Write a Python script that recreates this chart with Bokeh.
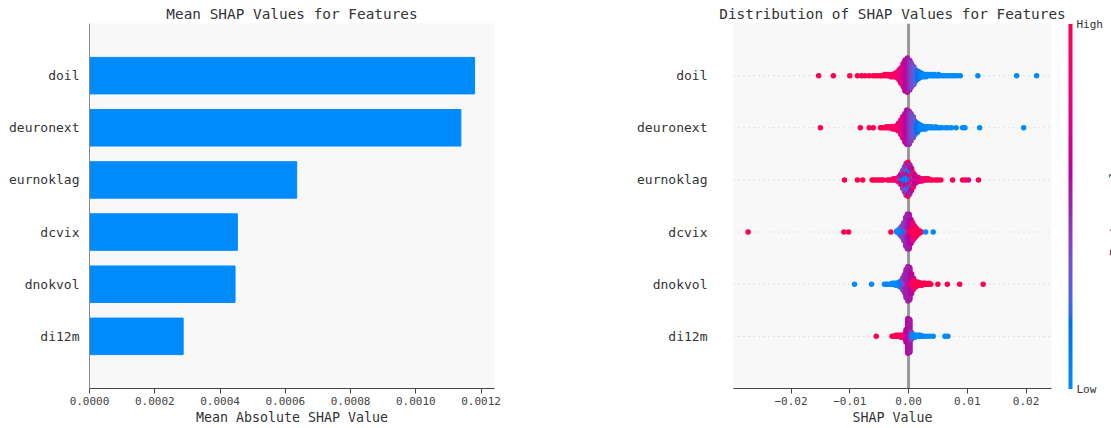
import math

from bokeh.core.properties import value
from bokeh.embed import file_html
from bokeh.layouts import row
from bokeh.models import (ColorBar, ColumnDataSource, CustomJSTickFormatter, FixedTicker,
                          LinearColorMapper, PrintfTickFormatter, Range1d, Span)
from bokeh.plotting import figure
from bokeh.resources import INLINE
from bokeh.transform import transform

FONT = "DejaVu Sans Mono"

# ---------------------------------------------------------------- data
features = ["doil", "deuronext", "eurnoklag", "dcvix", "dnokvol", "di12m"]
mean_abs_shap = [0.001180, 0.001138, 0.000635, 0.000453, 0.000446, 0.000287]

# beeswarm records: (shap value, number of samples, scaled feature value 0=low 1=high)
doil_points = [
    (-0.0153, 1, 1.0), (-0.0128, 1, 1.0), (-0.0100, 1, 1.0), (-0.0087, 1, 1.0),
    (-0.0080, 1, 1.0), (-0.0074, 1, 1.0), (-0.0067, 1, 1.0),
    (-0.0060, 1, 1.0), (-0.0056, 1, 1.0), (-0.0052, 1, 1.0), (-0.0048, 1, 1.0),
    (-0.0045, 1, 0.97), (-0.0041, 2, 0.97), (-0.0037, 2, 0.96), (-0.0034, 2, 0.95),
    (-0.0030, 3, 0.94), (-0.0027, 3, 0.93), (-0.0023, 4, 0.92), (-0.0020, 6, 0.9),
    (-0.0016, 10, 0.86), (-0.0013, 15, 0.8), (-0.0009, 22, 0.74), (-0.0006, 29, 0.66),
    (-0.0002, 32, 0.57), (0.0002, 28, 0.48), (0.0005, 22, 0.4), (0.0009, 17, 0.32),
    (0.0012, 11, 0.24), (0.0016, 8, 0.17), (0.0019, 6, 0.1), (0.0023, 4, 0.06),
    (0.0026, 3, 0.03), (0.0030, 3, 0.0), (0.0033, 2, 0.0), (0.0037, 2, 0.0),
    (0.0041, 2, 0.0), (0.0044, 2, 0.0), (0.0048, 1, 0.0), (0.0051, 2, 0.0),
    (0.0055, 1, 0.0), (0.0059, 1, 0.0), (0.0063, 1, 0.0), (0.0067, 1, 0.0),
    (0.0071, 1, 0.0), (0.0075, 1, 0.0), (0.0079, 1, 0.0), (0.0083, 1, 0.0),
    (0.0088, 1, 0.0), (0.0118, 1, 0.0), (0.0184, 1, 0.0), (0.0218, 1, 0.0),
]

deuronext_points = [
    (-0.0150, 1, 1.0), (-0.0082, 1, 1.0), (-0.0067, 1, 1.0), (-0.0060, 1, 1.0),
    (-0.0048, 1, 1.0), (-0.0045, 1, 1.0), (-0.0041, 1, 1.0), (-0.0038, 2, 0.98),
    (-0.0034, 2, 0.97), (-0.0031, 2, 0.96), (-0.0027, 3, 0.95), (-0.0024, 3, 0.93),
    (-0.0020, 5, 0.9), (-0.0017, 8, 0.86), (-0.0013, 14, 0.8), (-0.0010, 20, 0.74),
    (-0.0006, 27, 0.66), (-0.0003, 32, 0.58), (0.0001, 31, 0.5), (0.0004, 26, 0.42),
    (0.0008, 20, 0.33), (0.0011, 13, 0.25), (0.0015, 9, 0.17), (0.0018, 6, 0.1),
    (0.0022, 4, 0.05), (0.0025, 3, 0.03), (0.0029, 3, 0.02), (0.0032, 2, 0.0),
    (0.0036, 2, 0.0), (0.0039, 2, 0.0), (0.0043, 1, 0.0), (0.0046, 2, 0.0),
    (0.0050, 1, 0.0), (0.0053, 1, 0.0), (0.0057, 1, 0.0), (0.0063, 1, 0.0),
    (0.0067, 1, 0.0), (0.0073, 1, 0.0), (0.0081, 1, 0.0), (0.0092, 1, 0.0),
    (0.0096, 1, 0.0), (0.0121, 1, 0.0), (0.0196, 1, 0.0),
]

eurnoklag_points = [
    (-0.0109, 1, 1.0), (-0.0087, 1, 1.0), (-0.0078, 1, 1.0), (-0.0062, 1, 1.0),
    (-0.0058, 1, 1.0), (-0.0054, 1, 1.0), (-0.0050, 1, 1.0), (-0.0046, 1, 1.0),
    (-0.0043, 1, 0.95), (-0.0036, 1, 1.0), (-0.0033, 1, 0.9), (-0.0029, 1, 1.0),
    (-0.0026, 2, 0.95), (-0.0022, 2, 0.85), (-0.0019, 3, 0.9),
    (-0.0016, 2, 1.0), (-0.0016, 2, 0.3), (-0.0016, 2, 0.85),
    (-0.0013, 4, 0.25), (-0.0013, 3, 0.9), (-0.0013, 3, 0.55),
    (-0.0010, 6, 0.15), (-0.0010, 4, 0.6), (-0.0010, 3, 0.95), (-0.0010, 3, 0.4),
    (-0.0007, 6, 0.1), (-0.0007, 6, 0.5), (-0.0007, 4, 0.9), (-0.0007, 6, 0.35),
    (-0.0004, 8, 0.1), (-0.0004, 6, 0.65), (-0.0004, 8, 0.3), (-0.0004, 2, 0.95),
    (-0.0004, 4, 0.45),
    (-0.0001, 8, 0.0), (-0.0001, 8, 0.55), (-0.0001, 8, 0.25), (-0.0001, 4, 0.75),
    (-0.0001, 2, 1.0),
    (0.0002, 6, 0.2), (0.0002, 6, 0.75), (0.0002, 8, 0.1), (0.0002, 6, 0.5),
    (0.0005, 6, 0.45), (0.0005, 6, 0.9), (0.0005, 4, 0.15), (0.0005, 4, 0.65),
    (0.0008, 5, 0.8), (0.0008, 4, 0.4), (0.0008, 4, 1.0),
    (0.0011, 4, 0.9), (0.0011, 4, 0.6),
    (0.0014, 3, 1.0), (0.0014, 2, 0.65),
    (0.0017, 2, 0.9), (0.0017, 2, 0.7),
    (0.0020, 1, 1.0), (0.0020, 2, 0.65),
    (0.0023, 3, 0.85), (0.0027, 2, 1.0), (0.0030, 2, 0.75), (0.0034, 2, 1.0),
    (0.0038, 1, 1.0), (0.0041, 1, 0.9), (0.0046, 1, 1.0), (0.0050, 1, 1.0),
    (0.0055, 1, 1.0), (0.0075, 1, 1.0), (0.0092, 1, 1.0), (0.0097, 1, 1.0),
    (0.0102, 1, 0.75), (0.0119, 1, 1.0),
]

dcvix_points = [
    (-0.0273, 1, 1.0), (-0.0110, 1, 1.0), (-0.0102, 1, 1.0), (-0.0030, 1, 1.0),
    (-0.0020, 2, 0.0), (-0.0017, 4, 0.0),
    (-0.0014, 6, 0.0), (-0.0014, 2, 0.3),
    (-0.0011, 8, 0.05), (-0.0011, 4, 0.35),
    (-0.0008, 8, 0.1), (-0.0008, 10, 0.4),
    (-0.0005, 6, 0.2), (-0.0005, 22, 0.45),
    (-0.0002, 6, 0.35), (-0.0002, 28, 0.5),
    (0.0001, 6, 0.8), (0.0001, 28, 0.55),
    (0.0004, 8, 0.95), (0.0004, 16, 0.6),
    (0.0007, 10, 1.0), (0.0007, 8, 0.75),
    (0.0010, 10, 1.0), (0.0010, 3, 0.85),
    (0.0013, 9, 1.0), (0.0016, 5, 1.0), (0.0019, 3, 1.0), (0.0022, 1, 1.0),
    (0.0029, 1, 0.0), (0.0042, 1, 0.0),
]

dnokvol_points = [
    (-0.0092, 1, 0.0), (-0.0063, 1, 0.0), (-0.0041, 1, 0.0), (-0.0038, 1, 0.0),
    (-0.0035, 1, 0.05), (-0.0031, 1, 0.0), (-0.0028, 2, 0.0), (-0.0025, 2, 0.0),
    (-0.0022, 3, 0.02), (-0.0019, 3, 0.03), (-0.0016, 5, 0.05), (-0.0013, 7, 0.1),
    (-0.0010, 6, 0.15), (-0.0010, 6, 0.4),
    (-0.0007, 6, 0.3), (-0.0007, 12, 0.45),
    (-0.0004, 6, 0.4), (-0.0004, 22, 0.5),
    (-0.0001, 6, 0.55), (-0.0001, 28, 0.5),
    (0.0002, 6, 0.75), (0.0002, 26, 0.55),
    (0.0005, 8, 0.85), (0.0005, 12, 0.6),
    (0.0008, 8, 0.95), (0.0008, 4, 0.7),
    (0.0011, 7, 1.0), (0.0014, 5, 1.0), (0.0017, 4, 1.0), (0.0020, 3, 1.0),
    (0.0023, 3, 1.0), (0.0026, 2, 1.0), (0.0029, 2, 1.0), (0.0032, 1, 1.0),
    (0.0035, 2, 1.0), (0.0038, 1, 1.0), (0.0050, 1, 1.0), (0.0066, 1, 1.0),
    (0.0087, 1, 1.0), (0.0127, 1, 1.0),
]

di12m_points = [
    (-0.0055, 1, 1.0), (-0.0028, 1, 1.0), (-0.0025, 1, 1.0), (-0.0022, 2, 1.0),
    (-0.0019, 2, 1.0), (-0.0016, 2, 0.98), (-0.0013, 3, 0.95), (-0.0010, 3, 0.95),
    (-0.0007, 5, 0.9),
    (-0.0004, 4, 0.9), (-0.0004, 10, 0.65),
    (-0.0001, 4, 0.8), (-0.0001, 32, 0.6),
    (0.0002, 4, 0.3), (0.0002, 30, 0.55),
    (0.0005, 4, 0.1), (0.0005, 4, 0.4),
    (0.0008, 4, 0.0), (0.0011, 3, 0.0), (0.0014, 2, 0.0), (0.0017, 2, 0.0),
    (0.0020, 2, 0.0), (0.0023, 1, 0.0), (0.0026, 1, 0.0), (0.0031, 1, 0.0),
    (0.0036, 1, 0.0), (0.0042, 1, 0.0), (0.0062, 1, 0.0), (0.0067, 1, 0.0),
]

swarm_points = [doil_points, deuronext_points, eurnoklag_points,
                dcvix_points, dnokvol_points, di12m_points]

row_pos = [5, 4, 3, 2, 1, 0]          # top feature drawn highest
shap_ticks = [-0.02, -0.01, 0.0, 0.01, 0.02]
bar_ticks = [0.0, 0.0002, 0.0004, 0.0006, 0.0008, 0.0010, 0.0012]
cbar_labels = {0: "Low", 1: "High"}


# ---------------------------------------------------------------- colour scale
def lch_to_hex(l, c, h):
    a, b = c * math.cos(h), c * math.sin(h)
    fy = (l + 16) / 116
    fx, fz = fy + a / 500, fy - b / 200

    def finv(t):
        return t ** 3 if t ** 3 > 0.008856 else (t - 16 / 116) / 7.787

    X, Y, Z = 0.95047 * finv(fx), finv(fy), 1.08883 * finv(fz)
    rgb = (3.2406 * X - 1.5372 * Y - 0.4986 * Z,
           -0.9689 * X + 1.8758 * Y + 0.0415 * Z,
           0.0557 * X - 0.2040 * Y + 1.0570 * Z)
    out = []
    for v in rgb:
        v = 12.92 * v if v <= 0.0031308 else 1.055 * max(v, 0) ** (1 / 2.4) - 0.055
        out.append(int(round(min(max(v, 0.0), 1.0) * 255)))
    return "#%02x%02x%02x" % tuple(out)


def red_blue_palette(n=256):
    blue_lch = (54.0, 70.0, 4.6588)
    red_lch = (54.0, 90.0, 0.35470565 + 2 * math.pi)
    l_mid = 40.0
    half = n // 2
    pal = []
    for i in range(n):
        t = i / (n - 1)
        if i < half:
            l = blue_lch[0] + (l_mid - blue_lch[0]) * i / (half - 1)
        else:
            l = l_mid + (red_lch[0] - l_mid) * (i - half) / (n - half - 1)
        c = blue_lch[1] + (red_lch[1] - blue_lch[1]) * t
        h = blue_lch[2] + (red_lch[2] - blue_lch[2]) * t
        pal.append(lch_to_hex(l, c, h))
    return pal


PALETTE = red_blue_palette()
mapper = LinearColorMapper(palette=PALETTE, low=0, high=1)


# ---------------------------------------------------------------- swarm layout
def swarm_layout(records, y0, row_height=0.4):
    columns, order = {}, []
    for x, n, f in records:
        if x not in columns:
            columns[x] = []
            order.append(x)
        columns[x].extend([f] * n)
    max_layer = max(math.ceil((len(v) - 1) / 2) for v in columns.values())
    step = 0.9 * row_height / (max_layer + 1)
    xs, ys, fs = [], [], []
    for x in order:
        for k, f in enumerate(columns[x]):
            layer = math.ceil(k / 2) * (1 if k % 2 else -1)
            xs.append(x)
            ys.append(y0 + layer * step)
            fs.append(f)
    return xs, ys, fs


def style_axes(p, title, label, ylabel_standoff, show_yline):
    p.title.text = title
    p.title.align = "center"
    p.title.text_font = FONT
    p.title.text_font_size = "14.4px"
    p.title.text_font_style = "normal"
    p.title.text_color = "#333333"
    p.title.standoff = 4
    p.title.offset = 0

    xa, ya = p.xaxis[0], p.yaxis[0]
    xa.axis_label = label
    xa.axis_line_color = "#444444"
    xa.major_tick_line_color = "#444444"
    xa.major_tick_out = 5
    xa.major_tick_in = 0
    xa.minor_tick_line_color = None
    xa.major_label_text_font = FONT
    xa.major_label_text_font_size = "11px"
    xa.major_label_text_color = "#444444"
    xa.major_label_standoff = 3
    xa.axis_label_text_font = FONT
    xa.axis_label_text_font_size = "13.3px"
    xa.axis_label_text_font_style = "normal"
    xa.axis_label_text_color = "#333333"
    xa.axis_label_standoff = 2

    ya.ticker = FixedTicker(ticks=row_pos)
    ya.major_label_overrides = {r: f for r, f in zip(row_pos, features)}
    ya.major_tick_line_color = None
    ya.major_tick_out = 0
    ya.major_tick_in = 0
    ya.minor_tick_line_color = None
    ya.major_label_text_font = FONT
    ya.major_label_text_font_size = "13px"
    ya.major_label_text_color = "#333333"
    ya.major_label_standoff = ylabel_standoff
    ya.axis_line_color = "#888888" if show_yline else None
    p.grid.grid_line_color = None
    p.outline_line_color = None


def blank_strip(width, min_left, min_right):
    s = figure(width=width, height=428, x_range=Range1d(0, 1), y_range=Range1d(-1, 6),
               output_backend="svg", toolbar_location=None,
               x_axis_type=None, y_axis_type=None,
               min_border_left=min_left, min_border_right=min_right,
               min_border_top=23, min_border_bottom=40,
               background_fill_color="white", border_fill_color="white")
    s.grid.grid_line_color = None
    s.outline_line_color = None
    return s


# ---------------------------------------------------------------- left: mean |SHAP|
p1 = figure(width=555, height=428, x_range=Range1d(0, 0.001241), y_range=Range1d(-1, 6),
            output_backend="svg", toolbar_location=None,
            min_border_left=89, min_border_right=61, min_border_top=23, min_border_bottom=40,
            background_fill_color="#f8f8f8", border_fill_color="white")
p1.hbar(y=row_pos, left=0, right=mean_abs_shap, height=0.7, color="#008bfb")
style_axes(p1, "Mean SHAP Values for Features", "Mean Absolute SHAP Value", 10, True)
p1.xaxis[0].ticker = FixedTicker(ticks=bar_ticks)
p1.xaxis[0].formatter = PrintfTickFormatter(format="%.4f")

# ---------------------------------------------------------------- right: beeswarm
p2 = figure(width=511, height=428, x_range=Range1d(-0.02979, 0.02433), y_range=Range1d(-1, 6),
            output_backend="svg", toolbar_location=None,
            min_border_left=178, min_border_right=15, min_border_top=23, min_border_bottom=40,
            background_fill_color="#f8f8f8", border_fill_color="white")
style_axes(p2, "Distribution of SHAP Values for Features", "SHAP Value", 26, False)
p2.xaxis[0].ticker = FixedTicker(ticks=shap_ticks)
p2.xaxis[0].formatter = CustomJSTickFormatter(
    code="return (tick < -1e-9 ? '\\u2212' : '') + Math.abs(tick).toFixed(2);")

for r in row_pos:
    p2.add_layout(Span(location=r, dimension="width", line_color="#cccccc",
                       line_width=1, line_dash="1 4", level="underlay"))
p2.add_layout(Span(location=0, dimension="height", line_color="#999999",
                   line_width=3, level="underlay"))

for records, r in zip(swarm_points, row_pos):
    xs, ys, fs = swarm_layout(records, r)
    src = ColumnDataSource(data=dict(x=xs, y=ys, feat=fs))
    p2.scatter(x="x", y="y", size=5.5, line_color=None,
               fill_color=transform("feat", mapper), source=src)

# ---------------------------------------------------------------- colour bar
p3 = blank_strip(40, 0, 38)
cbar = ColorBar(color_mapper=mapper, width=4, height=365, padding=0, margin=0,
                location="center_left", ticker=FixedTicker(ticks=[0, 1]),
                major_label_overrides=cbar_labels,
                major_label_text_font=FONT, major_label_text_font_size="11px",
                major_label_text_color="#333333", label_standoff=4,
                major_tick_line_color=None, minor_tick_line_color=None,
                bar_line_color=None, border_line_color=None,
                background_fill_color=None)
p3.add_layout(cbar, "right")

# colour bar caption, running bottom-to-top
p4 = blank_strip(5, 0, 0)
p4.text(x=[0], y=[2.5], text=["Feature value"], angle=math.pi / 2,
        text_align="center", text_baseline="top", text_font=value(FONT),
        text_font_size="13px", text_color="#333333")

layout = row(p1, p2, p3, p4, spacing=0)
open("out.html", "w").write(file_html(layout, INLINE))
